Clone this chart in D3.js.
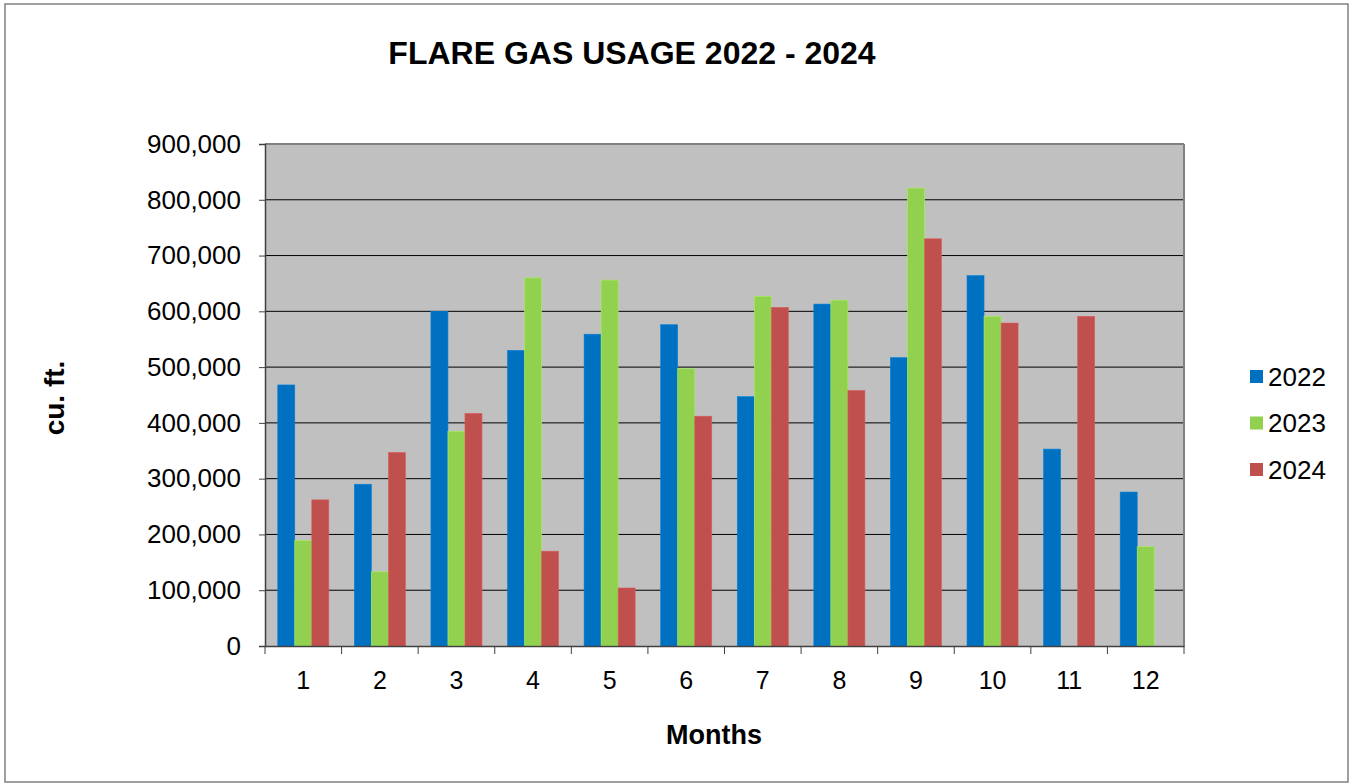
<!DOCTYPE html>
<html>
<head>
<meta charset="utf-8">
<script src="https://cdn.jsdelivr.net/npm/d3@7"></script>
<style>
  body { margin: 0; background: #fff; }
  text { font-family: "Liberation Sans", Arial, sans-serif; fill: #000; }
</style>
</head>
<body>
<div id="chart"></div>
<script>
var months = ['1', '2', '3', '4', '5', '6', '7', '8', '9', '10', '11', '12'];
var seriesNames = ['2022', '2023', '2024'];
var usage2022 = [468000, 290000, 600000, 530000, 559000, 576000, 447000, 613000, 517000, 664000, 353000, 276000];
var usage2023 = [189000, 133000, 385000, 660000, 656000, 497000, 627000, 620000, 821000, 591000, 0, 178000];
var usage2024 = [262000, 347000, 417000, 170000, 104000, 412000, 607000, 458000, 730000, 579000, 591000, 0];
var yTicks = [0, 100000, 200000, 300000, 400000, 500000, 600000, 700000, 800000, 900000];

var colors = { '2022': '#0070C0', '2023': '#92D050', '2024': '#C0504D' };
var seriesValues = { '2022': usage2022, '2023': usage2023, '2024': usage2024 };

var W = 1351, H = 783;
var plot = { left: 265, right: 1184, top: 144, bottom: 646 };

var svg = d3.select('#chart').append('svg').attr('width', W).attr('height', H);

// outer frame
svg.append('rect')
    .attr('x', 5).attr('y', 4)
    .attr('width', 1343).attr('height', 778)
    .style('fill', '#fff').style('stroke', '#808080').style('stroke-width', 1.5);

var x0 = d3.scaleBand().domain(months).range([plot.left, plot.right]).padding(0);
var x1 = d3.scaleBand().domain(seriesNames).range([0, x0.bandwidth()])
    .paddingInner(0).paddingOuter(0.75);
var y = d3.scaleLinear().domain([0, 900000]).range([plot.bottom, plot.top]);

// plot background
svg.append('rect')
    .attr('x', plot.left).attr('y', plot.top)
    .attr('width', plot.right - plot.left).attr('height', plot.bottom - plot.top)
    .style('fill', '#C0C0C0');

// gridlines
svg.append('g').selectAll('line')
    .data(yTicks.filter(function(t) { return t > 0 && t < 900000; }))
    .enter().append('line')
    .attr('x1', plot.left).attr('x2', plot.right)
    .attr('y1', function(d) { return y(d); }).attr('y2', function(d) { return y(d); })
    .style('stroke', '#000').style('stroke-width', 1);

// plot border top and right
svg.append('line').attr('x1', plot.left).attr('x2', plot.right)
    .attr('y1', plot.top).attr('y2', plot.top)
    .style('stroke', '#808080').style('stroke-width', 2);
svg.append('line').attr('x1', plot.right).attr('x2', plot.right)
    .attr('y1', plot.top).attr('y2', plot.bottom)
    .style('stroke', '#808080').style('stroke-width', 2);

// bars
var rows = months.map(function(m, i) {
    return { month: m, vals: seriesNames.map(function(s) { return { key: s, value: seriesValues[s][i] }; }) };
});

var groups = svg.append('g').selectAll('g.month')
    .data(rows).enter().append('g')
    .attr('class', 'month')
    .attr('transform', function(d) { return 'translate(' + x0(d.month) + ',0)'; });

groups.selectAll('rect')
    .data(function(d) { return d.vals.filter(function(v) { return v.value > 0; }); })
    .enter().append('rect')
    .attr('x', function(d) { return x1(d.key); })
    .attr('width', x1.bandwidth())
    .attr('y', function(d) { return y(d.value); })
    .attr('height', function(d) { return y(0) - y(d.value); })
    .style('fill', function(d) { return colors[d.key]; })
    .style('stroke', function(d) { return d3.color(colors[d.key]).brighter(0.4); })
    .style('stroke-width', 0.6);

// y axis
var yAxis = d3.axisLeft(y).tickValues(yTicks).tickSize(6).tickPadding(6)
    .tickFormat(d3.format(','));
var gy = svg.append('g').attr('transform', 'translate(' + plot.left + ',0)').call(yAxis);
gy.select('.domain').style('stroke', '#404040').style('stroke-width', 1.5);
gy.selectAll('.tick line').style('stroke', '#404040');
gy.selectAll('.tick text').style('font-size', '26px').attr('dx', '-12');

// x axis
var xAxis = d3.axisBottom(x0).tickSize(0).tickPadding(25);
var gx = svg.append('g').attr('transform', 'translate(0,' + plot.bottom + ')').call(xAxis);
gx.select('.domain').style('stroke', '#404040').style('stroke-width', 1.5);
gx.selectAll('.tick text').style('font-size', '25px');
gx.selectAll('line.boundary')
    .data(months.concat(['end']))
    .enter().append('line')
    .attr('class', 'boundary')
    .attr('x1', function(d, i) { return plot.left + i * x0.step(); })
    .attr('x2', function(d, i) { return plot.left + i * x0.step(); })
    .attr('y1', 0).attr('y2', 8)
    .style('stroke', '#404040');

// titles
svg.append('text').attr('x', 632).attr('y', 64)
    .attr('text-anchor', 'middle')
    .style('font-size', '32px').style('font-weight', 'bold')
    .text('FLARE GAS USAGE 2022 - 2024');

svg.append('text').attr('x', 714).attr('y', 744)
    .attr('text-anchor', 'middle')
    .style('font-size', '27px').style('font-weight', 'bold')
    .text('Months');

svg.append('text')
    .attr('transform', 'translate(64,398) rotate(-90)')
    .attr('text-anchor', 'middle')
    .style('font-size', '28px').style('font-weight', 'bold')
    .text('cu. ft.');

// legend
var legend = svg.append('g').selectAll('g.leg')
    .data(seriesNames).enter().append('g')
    .attr('class', 'leg')
    .attr('transform', function(d, i) { return 'translate(1250,' + (376.5 + i * 46.5) + ')'; });
legend.append('rect')
    .attr('x', 0).attr('y', -6.5).attr('width', 13).attr('height', 13)
    .style('fill', function(d) { return colors[d]; });
legend.append('text')
    .attr('x', 18).attr('y', 9)
    .style('font-size', '26px')
    .text(function(d) { return d; });
</script>
</body>
</html>
